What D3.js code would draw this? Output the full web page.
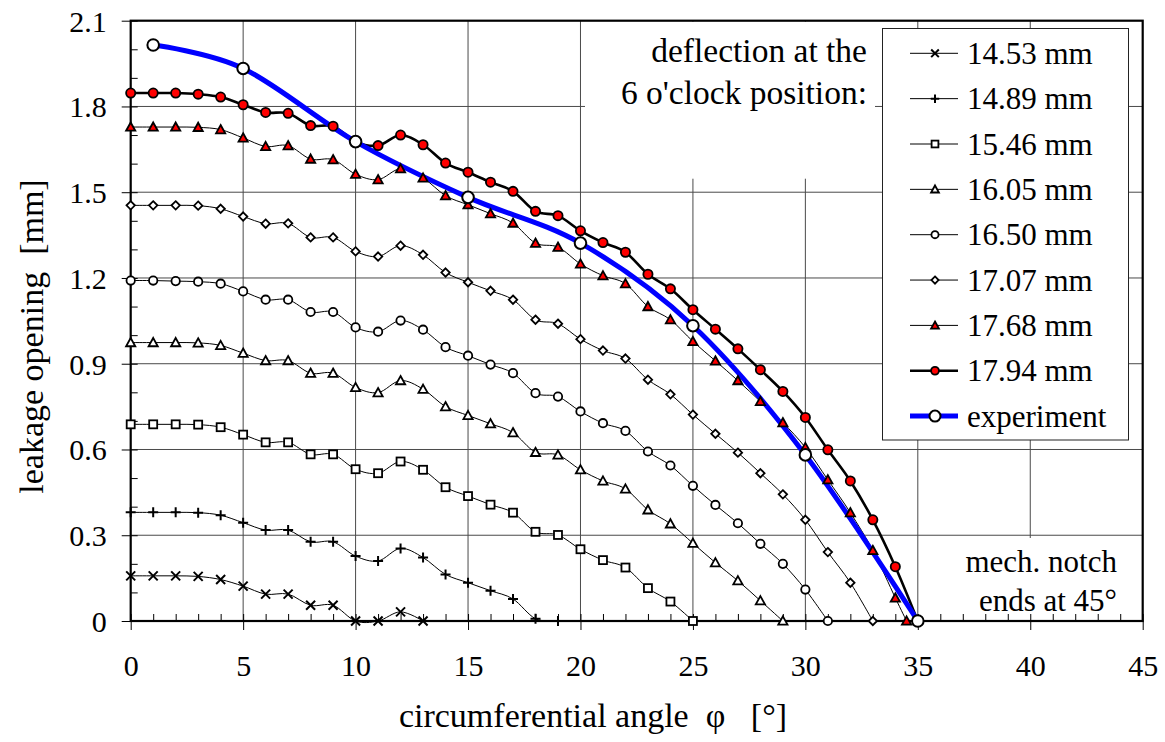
<!DOCTYPE html>
<html><head><meta charset="utf-8">
<script src="https://cdn.jsdelivr.net/npm/d3@7/dist/d3.min.js"></script>
<style>body{margin:0;background:#fff} svg{display:block} text{font-family:"Liberation Serif","Times New Roman",serif;fill:#000}</style>
</head><body><svg id="chart" width="1165" height="742"></svg>
<script>
// ---------------- data ----------------
const angles = d3.range(0, 36); // 0..35 degrees
const s1453 = [0.158,0.158,0.158,0.156,0.145,0.122,0.094,0.094,0.055,0.055,0,0,0.032,0];
const s1489 = [0.380,0.380,0.380,0.379,0.370,0.344,0.318,0.318,0.277,0.277,0.227,0.210,0.254,0.222,0.163,0.134,0.106,0.077,0.008,0];
const s1546 = [0.688,0.688,0.688,0.687,0.678,0.652,0.625,0.625,0.583,0.583,0.531,0.517,0.558,0.529,0.468,0.437,0.407,0.379,0.312,0.301,0.251,0.213,0.187,0.115,0.068,0];
const s1605 = [0.974,0.974,0.974,0.973,0.964,0.937,0.911,0.911,0.867,0.867,0.817,0.799,0.841,0.811,0.750,0.719,0.690,0.659,0.590,0.581,0.529,0.490,0.462,0.389,0.340,0.272,0.204,0.141,0.071,0];
const s1650 = [1.191,1.191,1.189,1.187,1.180,1.153,1.124,1.124,1.081,1.081,1.027,1.012,1.051,1.019,0.958,0.928,0.897,0.867,0.797,0.785,0.733,0.692,0.665,0.593,0.544,0.473,0.406,0.342,0.270,0.200,0.110,0];
const s1707 = [1.454,1.454,1.454,1.453,1.442,1.415,1.390,1.391,1.342,1.342,1.293,1.275,1.313,1.281,1.219,1.185,1.155,1.124,1.054,1.040,0.986,0.946,0.918,0.844,0.793,0.722,0.655,0.589,0.517,0.443,0.354,0.241,0.134,0];
const s1768Angles = [0,1,2,3,4,5,6,7,8,9,10,11,12,13,14,15,16,17,18,19,20,21,22,23,24,25,26,27,28,29,30,31,32,33,34,34.5];
const s1768 = [1.728,1.728,1.728,1.727,1.719,1.690,1.660,1.663,1.616,1.614,1.563,1.544,1.582,1.550,1.488,1.456,1.425,1.392,1.322,1.308,1.249,1.208,1.180,1.100,1.054,0.978,0.910,0.841,0.768,0.694,0.607,0.494,0.379,0.247,0.081,0];
const s1794 = [1.847,1.847,1.847,1.843,1.833,1.806,1.779,1.776,1.733,1.731,1.677,1.663,1.700,1.666,1.602,1.570,1.535,1.503,1.433,1.418,1.365,1.324,1.290,1.213,1.162,1.089,1.021,0.952,0.879,0.803,0.712,0.599,0.490,0.354,0.190,0];
const expAngles = [1,5,10,15,20,25,30,35];
const expValues = [2.015,1.933,1.677,1.482,1.322,1.033,0.581,0];
const seriesLabels = ["14.53 mm","14.89 mm","15.46 mm","16.05 mm","16.50 mm","17.07 mm","17.68 mm","17.94 mm","experiment"];
const xTicks = [0,5,10,15,20,25,30,35,40,45];
const yTicks = [0,0.3,0.6,0.9,1.2,1.5,1.8,2.1];
const yTickLabels = ["0","0.3","0.6","0.9","1.2","1.5","1.8","2.1"];
const xTitle = "circumferential angle  \u03C6   [\u00B0]";
const yTitle = "leakage opening  [mm]";
const noteTop = ["deflection at the", "6 o'clock position:"];
const noteBottom = ["mech. notch", "ends at 45\u00B0"];

// ---------------- layout ----------------
const svg = d3.select("#chart");
const L = 130.7, R = 1142.7, T = 20.7, B = 621;
const x = d3.scaleLinear().domain([0, 45]).range([L, R]);
const y = d3.scaleLinear().domain([0, 2.1]).range([B, T]);

const series = [
  {vals: s1453, ang: angles, mk: "x",   lw: 1},
  {vals: s1489, ang: angles, mk: "+",   lw: 1},
  {vals: s1546, ang: angles, mk: "sq",  lw: 1},
  {vals: s1605, ang: angles, mk: "tri", lw: 1},
  {vals: s1650, ang: angles, mk: "ci",  lw: 1},
  {vals: s1707, ang: angles, mk: "di",  lw: 1},
  {vals: s1768, ang: s1768Angles, mk: "rtri", lw: 1},
  {vals: s1794, ang: angles, mk: "rci", lw: 2.6},
];
series.forEach((s, i) => s.label = seriesLabels[i]);

// gridlines
const grid = svg.append("g");
grid.selectAll("line.vg").data(xTicks.filter(d => d > 0 && d < 45)).join("line")
  .attr("x1", d => x(d)).attr("x2", d => x(d)).attr("y1", T).attr("y2", B)
  .attr("stroke", "#4a4a4a").attr("stroke-width", 1);
grid.selectAll("line.hg").data(yTicks.filter(d => d > 0 && d < 2.1)).join("line")
  .attr("y1", d => y(d)).attr("y2", d => y(d)).attr("x1", L).attr("x2", R)
  .attr("stroke", "#4a4a4a").attr("stroke-width", 1);

// white text boxes covering gridlines
svg.append("rect").attr("x", 585).attr("y", T + 1).attr("width", 290).attr("height", 157).attr("fill", "#fff");
svg.append("rect").attr("x", 960).attr("y", 538).attr("width", R - 961).attr("height", B - 539).attr("fill", "#fff");

// axes ticks
const fmt = d => yTickLabels[yTicks.indexOf(d)];
const gx = svg.append("g").attr("transform", `translate(0,${B})`)
  .call(d3.axisBottom(x).tickValues(xTicks).tickSize(9).tickFormat(d3.format("d")));
gx.select(".domain").remove();
gx.attr("font-family", null);
gx.selectAll("text").attr("y", 55).attr("dy", null).style("font-size", "30px");
gx.selectAll("line").attr("stroke", "#000");
const gxm = svg.append("g").attr("transform", `translate(0,${B})`)
  .call(d3.axisBottom(x).tickValues(d3.range(0, 46)).tickSize(-7).tickFormat(""));
gxm.select(".domain").remove();

const gy = svg.append("g").attr("transform", `translate(${L},0)`)
  .call(d3.axisLeft(y).tickValues(yTicks).tickSize(9).tickPadding(15).tickFormat(fmt));
gy.select(".domain").remove();
gy.attr("font-family", null);
gy.selectAll("text").attr("dy", "0.35em").style("font-size", "30px");
const gym = svg.append("g").attr("transform", `translate(${L},0)`)
  .call(d3.axisLeft(y).tickValues(d3.range(0, 22).map(i => i / 10)).tickSize(-7).tickFormat(""));
gym.select(".domain").remove();

// frame
svg.append("rect").attr("x", L).attr("y", T).attr("width", R - L).attr("height", B - T)
  .attr("fill", "none").attr("stroke", "#000").attr("stroke-width", 2.2);

// markers
function marker(g, type, cx, cy, s) {
  s = s || 1;
  if (type === "x") {
    const h = 4.5 * s;
    g.append("path").attr("d", `M${cx-h},${cy-h}L${cx+h},${cy+h}M${cx-h},${cy+h}L${cx+h},${cy-h}`)
      .attr("stroke", "#000").attr("stroke-width", 2).attr("fill", "none");
  } else if (type === "+") {
    const h = 5 * s;
    g.append("path").attr("d", `M${cx-h},${cy}L${cx+h},${cy}M${cx},${cy-h}L${cx},${cy+h}`)
      .attr("stroke", "#000").attr("stroke-width", 2).attr("fill", "none");
  } else if (type === "sq") {
    const h = 4 * s;
    g.append("rect").attr("x", cx - h).attr("y", cy - h).attr("width", 2 * h).attr("height", 2 * h)
      .attr("fill", "#fff").attr("stroke", "#000").attr("stroke-width", 1.8);
  } else if (type === "tri" || type === "rtri") {
    const h = 4.6 * s;
    g.append("path").attr("d", `M${cx},${cy-h}L${cx+h},${cy+h*0.8}L${cx-h},${cy+h*0.8}Z`)
      .attr("fill", type === "rtri" ? "#ff0000" : "#fff").attr("stroke", "#000").attr("stroke-width", 1.8);
  } else if (type === "ci") {
    g.append("circle").attr("cx", cx).attr("cy", cy).attr("r", 4.2 * s)
      .attr("fill", "#fff").attr("stroke", "#000").attr("stroke-width", 1.8);
  } else if (type === "di") {
    const h = 4.2 * s;
    g.append("path").attr("d", `M${cx},${cy-h}L${cx+h},${cy}L${cx},${cy+h}L${cx-h},${cy}Z`)
      .attr("fill", "#fff").attr("stroke", "#000").attr("stroke-width", 1.8);
  } else if (type === "rci") {
    g.append("circle").attr("cx", cx).attr("cy", cy).attr("r", 4.6 * s)
      .attr("fill", "#ff0000").attr("stroke", "#000").attr("stroke-width", 1.8);
  } else if (type === "exp") {
    g.append("circle").attr("cx", cx).attr("cy", cy).attr("r", 5.8 * s)
      .attr("fill", "#fff").attr("stroke", "#000").attr("stroke-width", 2);
  }
}

// lines
const lineGen = d3.line().curve(d3.curveCardinal.tension(0));
const linesG = svg.append("g");
series.forEach(s => {
  linesG.append("path")
    .attr("d", lineGen(s.vals.map((v, i) => [x(s.ang[i]), y(v)])))
    .attr("fill", "none").attr("stroke", "#000").attr("stroke-width", s.lw);
});
linesG.append("path")
  .attr("d", lineGen(expValues.map((v, i) => [x(expAngles[i]), y(v)])))
  .attr("fill", "none").attr("stroke", "#0000ff").attr("stroke-width", 5);

// markers on top
const mkG = svg.append("g");
series.forEach(s => {
  s.vals.forEach((v, i) => marker(mkG, s.mk, x(s.ang[i]), y(v)));
});
expValues.forEach((v, i) => marker(mkG, "exp", x(expAngles[i]), y(v)));

// legend
const lg = svg.append("g");
lg.append("rect").attr("x", 882.5).attr("y", 28.5).attr("width", 246).attr("height", 411.5)
  .attr("fill", "#fff").attr("stroke", "#222").attr("stroke-width", 1);
const legItems = series.map(s => ({label: s.label, mk: s.mk, lw: s.lw, color: "#000"}))
  .concat([{label: seriesLabels[8], mk: "exp", lw: 5, color: "#0000ff"}]);
legItems.forEach((it, i) => {
  const cy = 53.3 + i * 45.35;
  lg.append("line").attr("x1", 910).attr("x2", 958).attr("y1", cy).attr("y2", cy)
    .attr("stroke", it.color).attr("stroke-width", it.lw);
  marker(lg, it.mk, 935, cy, it.mk === "exp" ? 0.95 : 0.85);
  lg.append("text").attr("x", 967).attr("y", cy + 10.5).style("font-size", "31px").text(it.label);
});

// annotations
noteTop.forEach((t, i) => svg.append("text").attr("x", 867).attr("y", 62 + i * 42)
  .attr("text-anchor", "end").style("font-size", "33.5px").text(t));
noteBottom.forEach((t, i) => svg.append("text").attr("x", 1117).attr("y", 571.7 + i * 39)
  .attr("text-anchor", "end").style("font-size", "31px").text(t));

// axis titles
svg.append("text").attr("x", 593).attr("y", 727).attr("text-anchor", "middle")
  .style("font-size", "34px").style("white-space", "pre").text(xTitle);
svg.append("text").attr("transform", "translate(43.3,336.5) rotate(-90)").attr("text-anchor", "middle")
  .style("font-size", "34px").style("white-space", "pre").text(yTitle);
</script>
</body></html>
